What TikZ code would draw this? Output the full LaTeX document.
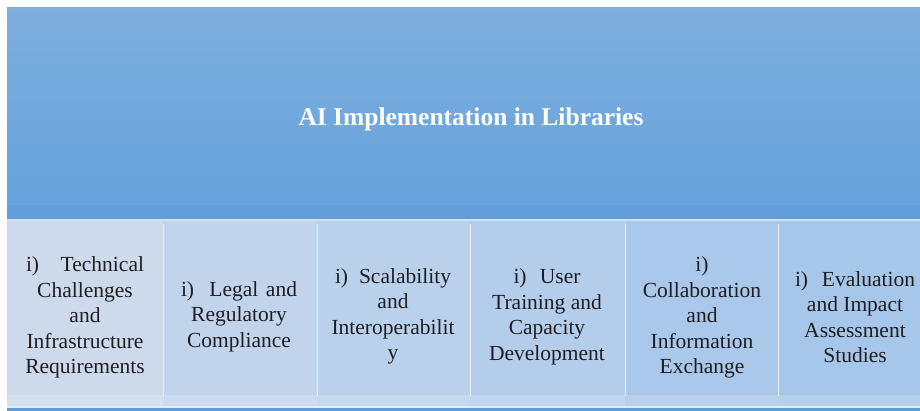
\documentclass[tikz,border=0pt]{standalone}
\usepackage{fontspec}
\setmainfont{Liberation Serif}
\definecolor{headtop}{RGB}{125,174,221}
\definecolor{headbot}{RGB}{101,162,221}
\definecolor{headband}{RGB}{98,159,218}
\definecolor{seam}{RGB}{210,226,242}
\definecolor{cellA}{RGB}{204,218,236}
\definecolor{cellB}{RGB}{193,212,236}
\definecolor{cellC}{RGB}{186,209,236}
\definecolor{cellD}{RGB}{179,205,235}
\definecolor{cellE}{RGB}{169,200,234}
\definecolor{cellF}{RGB}{166,199,233}
\definecolor{footline}{RGB}{226,236,246}
\definecolor{footbar}{RGB}{92,156,216}
\definecolor{ink}{RGB}{30,30,34}
\begin{document}
\begin{tikzpicture}[x=1pt,y=-1pt,
  celltext/.style={align=center,text=ink,font=\fontsize{21.5}{25.5}\selectfont,inner sep=0pt},
  titletext/.style={text=white,font=\fontsize{25.5}{30}\selectfont\bfseries,inner sep=0pt}]
\useasboundingbox (0,0) rectangle (920,411);
\fill[white] (0,0) rectangle (920,411);
% header band
\shade[top color=headtop,bottom color=headbot] (7,8) rectangle (920,219);
\fill[headband] (7,205) rectangle (920,219);
\fill[seam] (7,219) rectangle (920,221);
% cells
\fill[cellA] (7,221) rectangle (163,406);
\fill[cellB] (163,221) rectangle (317,406);
\fill[cellC] (317,221) rectangle (470,406);
\fill[cellD] (470,221) rectangle (625,406);
\fill[cellE] (625,221) rectangle (778,406);
\fill[cellF] (778,221) rectangle (920,406);
% lighter strip along the foot of the cells
\fill[white,opacity=0.18] (7,395) rectangle (920,406);
% dividers
\foreach \xx in {163,317,470,625,778}
  \draw[white,opacity=0.7,line width=1pt] (\xx,224) -- (\xx,396);
% foot bar
\fill[footline] (7,406) rectangle (920,407.5);
\fill[footbar] (7,407.5) rectangle (920,411);
% texts
\node[titletext] (title) at (471,119) {AI Implementation in Libraries};
\node[celltext] (c1) at (85,317.5) {\makebox[118pt][s]{i) \ Technical}\\Challenges\\and\\Infrastructure\\Requirements};
\node[celltext] (c2) at (239,316.5) {\makebox[116pt][s]{i) \ Legal and}\\Regulatory\\Compliance};
\node[celltext] (c3) at (393,316.5) {\makebox[116pt][s]{i) Scalability}\\and\\Interoperabilit\\y};
\node[celltext] (c4) at (547,317) {\makebox[67pt][s]{i) User}\\Training and\\Capacity\\Development};
\node[celltext] (c5) at (702,317.5) {i)\\Collaboration\\and\\Information\\Exchange};
\node[celltext] (c6) at (855,317) {\makebox[120pt][s]{i) Evaluation}\\and Impact\\Assessment\\Studies};
\end{tikzpicture}
\end{document}
